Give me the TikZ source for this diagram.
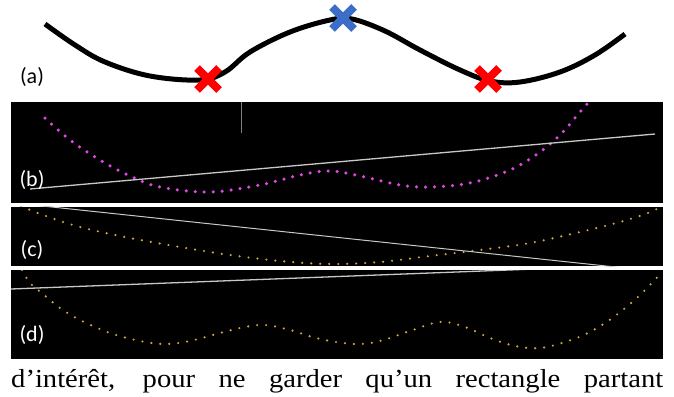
\documentclass[tikz,border=0pt]{standalone}
\usepackage{fontspec}
\setmainfont{Liberation Serif}
\newfontfamily\bodyfont[FakeStretch=1.1]{Liberation Serif}
\newfontfamily\lblfont{Carlito}
\definecolor{magdot}{RGB}{225,70,225}
\definecolor{golddot}{RGB}{210,165,60}
\definecolor{xred}{RGB}{255,0,0}
\definecolor{xblue}{RGB}{60,110,200}
\definecolor{lgray}{RGB}{200,200,200}
\tikzset{
  panel/.style={fill=black,draw=none},
  lbl/.style={font=\lblfont\fontsize{22}{24}\selectfont,inner sep=0pt},
  crossarm/.style={line width=8pt,line cap=butt},
  magdots/.style={magdot,line width=3.5pt,line cap=round,dash pattern=on 0pt off 9pt},
  golddots/.style={golddot,line width=2.4pt,line cap=round,dash pattern=on 0pt off 9pt},
  fitline/.style={lgray,line width=1.3pt}
}
\newcommand{\xmark}[3]{%
  \draw[crossarm,#3] (#1-11,#2-11) -- (#1+11,#2+11);
  \draw[crossarm,#3] (#1-11,#2+11) -- (#1+11,#2-11);}
\begin{document}
\begin{tikzpicture}[x=1pt,y=-1pt]
\useasboundingbox (0,0) rectangle (674,396);
\fill[white] (0,0) rectangle (674,396);
% panel (a)
\draw[line width=5pt,line join=round] plot[smooth,tension=0.6] coordinates {
 (45,24) (75,45) (105,62) (150,76) (200,80) (225,72) (250,52) (290,32) (330,20) (352,19) (385,31) (420,50) (460,70) (490,81) (520,82) (560,72) (595,55) (625,34)};
\xmark{208}{79}{xred}
\xmark{488}{79}{xred}
\xmark{343}{18}{xblue}
\node[lbl] (la) at (32,77) {(a)};
% panel (b)
\fill[panel] (11,102) rectangle (663,203);
\begin{scope}
\clip (11,102) rectangle (663,203);
\draw[magdots] plot[smooth,tension=0.6] coordinates {
 (45,118) (70,140) (100,160) (130,176) (160,187) (210,192) (260,185) (300,175) (330,171) (360,176) (400,185) (430,187) (470,183) (510,170) (540,152) (562,133) (580,112) (598,92)};
\draw[fitline] (30,189) -- (655,134);
\draw[gray,line width=1pt] (241,100) -- (241,133);
\end{scope}
\node[lbl,white] (lb) at (32,180) {(b)};
% panel (c)
\fill[panel] (11,207) rectangle (663,266);
\begin{scope}
\clip (11,206) rectangle (663,266);
\draw[golddots] plot[smooth,tension=0.6] coordinates {
 (21,206) (43,215) (80,227) (130,238) (180,247) (230,255) (280,261) (330,264) (380,262) (430,256) (480,250) (530,243) (580,232) (620,222) (648,213) (662,206)};
\draw[fitline,line width=1pt] (33,205) -- (625,268);
\end{scope}
\node[lbl,white] (lc) at (32,250) {(c)};
% panel (d)
\fill[panel] (11,270) rectangle (663,359);
\begin{scope}
\clip (11,270) rectangle (663,359);
\draw[golddots] plot[smooth,tension=0.6] coordinates {
 (22,270) (30,283) (43,294) (60,308) (80,320) (110,333) (140,341) (165,344) (190,341) (220,333) (245,327) (265,325) (290,330) (320,339) (355,344) (380,341) (410,331) (440,322) (465,327) (490,338) (515,346) (540,348) (565,342) (590,332) (615,316) (640,295) (662,272)};
\draw[fitline] (11,289) -- (535,269) -- (663,268);
\end{scope}
\node[lbl,white] (ld) at (32,335) {(d)};
% bottom text
\node[anchor=base west,inner sep=0pt,font=\bodyfont\fontsize{26}{28}\selectfont] (txt) at (11,387)
  {\makebox[652pt][s]{d’intérêt, pour ne garder qu’un rectangle partant}};
\end{tikzpicture}
\end{document}
